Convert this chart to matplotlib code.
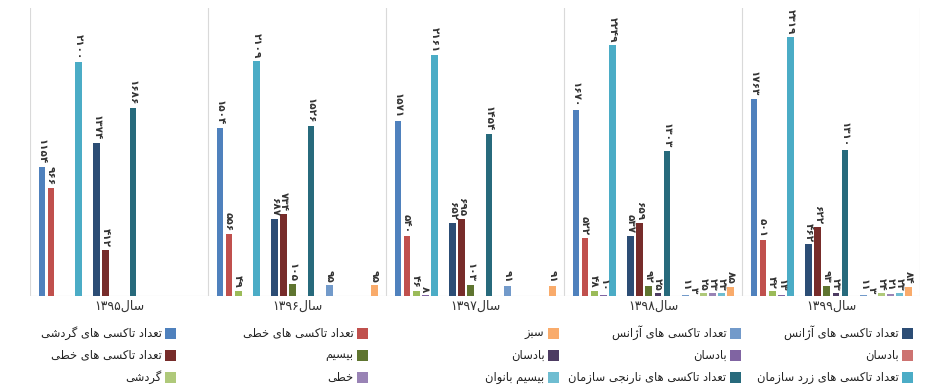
import re
import matplotlib
matplotlib.use("Agg")
import matplotlib.pyplot as plt
from matplotlib import font_manager
from matplotlib.ft2font import FT2Font
from matplotlib.patches import Rectangle

# data: one list per series, values per year (None = no bar)
years = ["۱۳۹۵", "۱۳۹۶", "۱۳۹۷", "۱۳۹۸", "۱۳۹۹"]

gardeshi_count = [1154, 1504, 1571, 1670, 1763]
khati_count = [966, 556, 540, 522, 501]
gardeshi = [None, 49, 46, 48, 42]
khati = [None, None, 8, 10, 13]
zard_sazman = [2100, 2109, 2161, 2249, 2319]
empty_a = [None, None, None, None, None]
azhans_count = [1374, 687, 652, 537, 462]
khati_count_2 = [412, 734, 695, 659, 622]
bisim = [None, 105, 103, 92, 93]
badsan_dark = [None, None, None, 25, 23]
narenji_sazman = [1686, 1526, 1454, 1303, 1310]
empty_b = [None, None, None, None, None]
azhans_count_2 = [None, 95, 91, 11, 11]
badsan_light = [None, None, None, 3, 3]
gardeshi_light = [None, None, None, 25, 24]
badsan_purple = [None, None, None, 23, 21]
bisim_banovan = [None, None, None, 23, 23]
sabz = [None, 95, 91, 85, 84]

series = [gardeshi_count, khati_count, gardeshi, khati, zard_sazman, empty_a,
          azhans_count, khati_count_2, bisim, badsan_dark, narenji_sazman, empty_b,
          azhans_count_2, badsan_light, gardeshi_light, badsan_purple, bisim_banovan, sabz]
colors = ["#4F81BD", "#C0504D", "#9BBB59", "#8064A2", "#4BACC6", "#F79646",
          "#2C4D75", "#772C2A", "#5F7530", "#4D3B62", "#276A7C", "#B65708",
          "#729ACA", "#CD7371", "#AFC97A", "#9983B5", "#6FBDD1", "#F9AB6B"]

# legend entries as laid out in the picture (rows, right to left)
legend_rows = [
    [("تعداد تاکسی های آژانس", "#2C4D75"), ("تعداد تاکسی های آژانس", "#729ACA"),
     ("سبز", "#F9AB6B"), ("تعداد تاکسی های خطی", "#C0504D"),
     ("تعداد تاکسی های گردشی", "#4F81BD")],
    [("بادسان", "#CD7371"), ("بادسان", "#8064A2"), ("بادسان", "#4D3B62"),
     ("بیسیم", "#5F7530"), ("تعداد تاکسی های خطی", "#772C2A")],
    [("تعداد تاکسی های زرد سازمان", "#4BACC6"), ("تعداد تاکسی های نارنجی سازمان", "#276A7C"),
     ("بیسیم بانوان", "#6FBDD1"), ("خطی", "#9983B5"), ("گردشی", "#AFC97A")],
]

# --- minimal Persian shaping (matplotlib has no bidi / joining) ---
FORMS = {
    "ا": (0xFE8D, 0xFE8E, None, None), "آ": (0xFE81, 0xFE82, None, None),
    "ب": (0xFE8F, 0xFE90, 0xFE91, 0xFE92), "پ": (0xFB56, 0xFB57, 0xFB58, 0xFB59),
    "ت": (0xFE95, 0xFE96, 0xFE97, 0xFE98), "ج": (0xFE9D, 0xFE9E, 0xFE9F, 0xFEA0),
    "چ": (0xFB7A, 0xFB7B, 0xFB7C, 0xFB7D), "ح": (0xFEA1, 0xFEA2, 0xFEA3, 0xFEA4),
    "خ": (0xFEA5, 0xFEA6, 0xFEA7, 0xFEA8), "د": (0xFEA9, 0xFEAA, None, None),
    "ذ": (0xFEAB, 0xFEAC, None, None), "ر": (0xFEAD, 0xFEAE, None, None),
    "ز": (0xFEAF, 0xFEB0, None, None), "ژ": (0xFB8A, 0xFB8B, None, None),
    "س": (0xFEB1, 0xFEB2, 0xFEB3, 0xFEB4), "ش": (0xFEB5, 0xFEB6, 0xFEB7, 0xFEB8),
    "ص": (0xFEB9, 0xFEBA, 0xFEBB, 0xFEBC), "ط": (0xFEC1, 0xFEC2, 0xFEC3, 0xFEC4),
    "ع": (0xFEC9, 0xFECA, 0xFECB, 0xFECC), "ف": (0xFED1, 0xFED2, 0xFED3, 0xFED4),
    "ق": (0xFED5, 0xFED6, 0xFED7, 0xFED8), "ک": (0xFB8E, 0xFB8F, 0xFB90, 0xFB91),
    "گ": (0xFB92, 0xFB93, 0xFB94, 0xFB95), "ل": (0xFEDD, 0xFEDE, 0xFEDF, 0xFEE0),
    "م": (0xFEE1, 0xFEE2, 0xFEE3, 0xFEE4), "ن": (0xFEE5, 0xFEE6, 0xFEE7, 0xFEE8),
    "ه": (0xFEE9, 0xFEEA, 0xFEEB, 0xFEEC), "و": (0xFEED, 0xFEEE, None, None),
    "ی": (0xFBFC, 0xFBFD, 0xFBFE, 0xFBFF),
}
FONT = "DejaVu Sans"
charmap = FT2Font(font_manager.findfont(FONT)).get_charmap()


def fa(text):
    out = []
    for i, c in enumerate(text):
        f = FORMS.get(c)
        if f is None:
            out.append(c)
            continue
        prev = text[i - 1] if i > 0 else ""
        nxt = text[i + 1] if i + 1 < len(text) else ""
        jp = prev in FORMS and FORMS[prev][2] is not None
        jn = nxt in FORMS and f[2] is not None
        if jp and jn:
            code = f[3]
        elif jp:
            code = f[1]
        elif jn:
            code = f[2]
        else:
            code = f[0]
        out.append(chr(code) if code in charmap else c)
    vis = "".join(out)[::-1]
    return re.sub(r"[0-9۰-۹]+", lambda m: m.group(0)[::-1], vis)


def fa_num(v):
    return str(v).translate(str.maketrans("0123456789", "۰۱۲۳۴۵۶۷۸۹"))


plt.rcParams["font.family"] = [FONT]

W, H = 925, 389
fig = plt.figure(figsize=(W / 100, H / 100), dpi=100)
ax = fig.add_axes([30 / W, 93 / H, 890 / W, 288 / H])

group_w = 19.56
first = 1.32
bar_w = 0.74
ymax = 2583

for s, (vals, col) in enumerate(zip(series, colors)):
    for g, v in enumerate(vals):
        if v is None:
            continue
        x = g * group_w + first + s
        ax.bar(x, v, width=bar_w, color=col, linewidth=0)
        ax.annotate(fa_num(v), (x, v), xytext=(0, 2), textcoords="offset points",
                    rotation=-90, ha="center", va="bottom", fontsize=7.5,
                    fontweight="bold", color="#333333")

for k in range(len(years) + 1):
    ax.axvline(k * group_w, color="#d9d9d9", lw=0.8, zorder=0)
ax.axhline(0, color="#d9d9d9", lw=0.8, zorder=0)

ax.set_xlim(0, len(years) * group_w)
ax.set_ylim(0, ymax)
ax.set_xticks([(g + 0.5) * group_w for g in range(len(years))])
ax.set_xticklabels([fa("سال" + y) for y in years], fontsize=9, color="#333333")
ax.tick_params(axis="x", length=0, pad=3)
ax.set_yticks([])
for sp in ax.spines.values():
    sp.set_visible(False)

# legend, drawn by hand in right-to-left order
col_x = [907, 735, 553, 362, 170]
row_y = [333, 355, 377]
box = 11
for r, row in enumerate(legend_rows):
    for c, (label, col) in enumerate(row):
        cx, cy = col_x[c], row_y[r]
        fig.patches.append(Rectangle(((cx - box / 2) / W, 1 - (cy + box / 2) / H), box / W, box / H,
                                     transform=fig.transFigure, facecolor=col, edgecolor="none"))
        fig.text((cx - box / 2 - 3) / W, 1 - cy / H, fa(label), ha="right", va="center",
                 fontsize=8.3, color="#222222")

fig.savefig("out.png", dpi=100)
